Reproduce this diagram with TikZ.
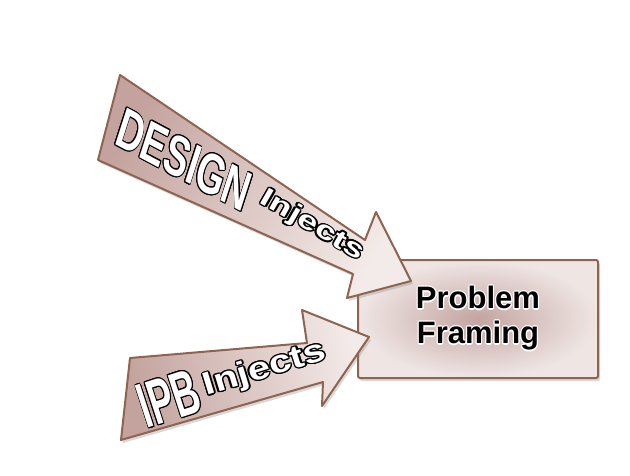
\documentclass[tikz,border=0pt]{standalone}
\usepackage{fontspec}
\setmainfont{Liberation Sans}
\usepackage{xcolor}
\usepackage{contour}
\usepackage{tikz}
\usetikzlibrary{shadows, positioning, calc}
\definecolor{rimbrown}{HTML}{8E6450}
\definecolor{taildark}{HTML}{C4A39E}
\definecolor{headlight}{HTML}{F3EBE9}
\definecolor{boxmid}{HTML}{C3A4A0}
\definecolor{boxedge}{HTML}{EFE6E4}
\contourlength{1.1pt}

\begin{document}
\begin{tikzpicture}[x=1pt, y=-1pt,
    blockarrow/.style={draw=rimbrown, line width=2pt, line join=round,
        drop shadow={opacity=0.3, shadow xshift=2pt, shadow yshift=-3pt}},
    wordart/.style={inner sep=0pt},
    framebox/.style={draw=rimbrown, line width=2pt, rounded corners=2pt,
        inner color=boxmid, outer color=boxedge,
        minimum width=240pt, minimum height=118pt,
        drop shadow={opacity=0.3, shadow xshift=2pt, shadow yshift=-3pt}}]
    \useasboundingbox (0,0) rectangle (630,475);

    % Problem Framing (behind the arrow heads)
    \node[framebox, align=center, font=\bfseries\fontsize{31}{35}\selectfont]
        (frame) at (478,319) {\contour{white}{Problem}\\\contour{white}{Framing}};

    % DESIGN arrow
    \draw[blockarrow, top color=headlight, bottom color=taildark, shading angle=-120]
        (120,75) -- (365,240) -- (376,212) -- (411,281) -- (347,298)
        -- (353,274) -- (98,160) -- cycle;
    \node[wordart, rotate=-28, xslant=-0.18, xscale=0.7, font=\bfseries\fontsize{55}{55}\selectfont]
        (design) at (184,160) {\contour{black}{\color{white}DESIGN}};
    \node[wordart, rotate=-30, xscale=1.4, font=\bfseries\fontsize{26}{26}\selectfont]
        (designinj) at (312,226) {\contour{black}{\color{white}Injects}};

    % IPB arrow
    \draw[blockarrow, top color=headlight, bottom color=taildark, shading angle=-75]
        (130,358) -- (307,343) -- (302,310) -- (369,337) -- (322,406)
        -- (323,382) -- (121,440) -- cycle;
    \node[wordart, rotate=18, xscale=0.57, font=\bfseries\fontsize{64}{64}\selectfont]
        (ipb) at (169,399) {\contour{black}{\color{white}IPB}};
    \node[wordart, rotate=17, xscale=1.25, font=\bfseries\fontsize{32}{32}\selectfont]
        (ipbinj) at (265,370) {\contour{black}{\color{white}Injects}};
\end{tikzpicture}
\end{document}
